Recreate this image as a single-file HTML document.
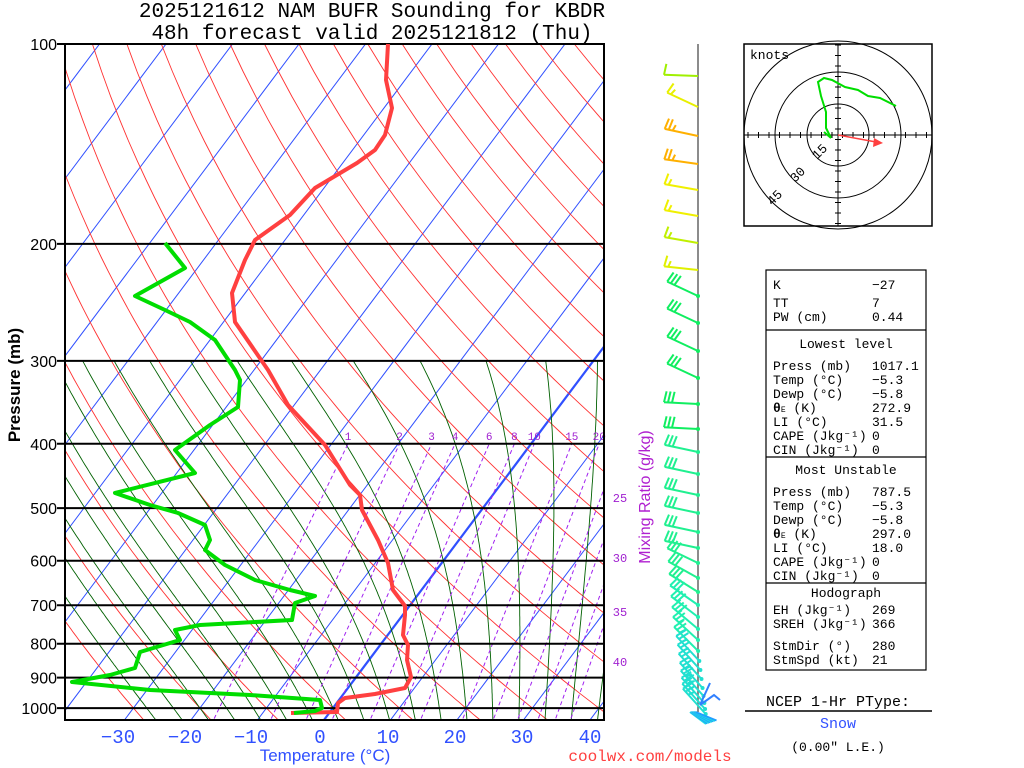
<!DOCTYPE html>
<html><head><meta charset="utf-8"><style>
body{margin:0;background:#fff;}
svg{display:block;}
text{font-family:"Liberation Mono",monospace;}
</style></head><body>
<svg id="s" width="1024" height="768" xmlns="http://www.w3.org/2000/svg">
<defs><clipPath id="cp"><rect x="65" y="44" width="539" height="676"/></clipPath></defs>
<g id="bg" clip-path="url(#cp)"></g>
<g id="fg"></g>
<text x="372" y="17" font-size="21" text-anchor="middle">2025121612 NAM BUFR Sounding for KBDR</text>
<text x="372" y="39" font-size="21" text-anchor="middle">48h forecast valid 2025121812 (Thu)</text>
<text transform="translate(20,385) rotate(-90)" font-size="17" font-weight="bold" text-anchor="middle" style="font-family:'Liberation Sans',sans-serif">Pressure (mb)</text>
<text transform="translate(650,497) rotate(-90)" font-size="16" fill="#b020d0" text-anchor="middle" style="font-family:'Liberation Sans',sans-serif">Mixing Ratio (g/kg)</text>
<g font-size="19" fill="#3050ff" text-anchor="middle" style="font-family:'Liberation Sans',sans-serif">
<text x="118" y="743">−30</text><text x="185" y="743">−20</text><text x="251" y="743">−10</text><text x="320" y="743">0</text><text x="388" y="743">10</text><text x="455" y="743">20</text><text x="522" y="743">30</text><text x="590" y="743">40</text>
<text x="325" y="761" font-size="17" style="font-family:'Liberation Sans',sans-serif">Temperature (°C)</text>
</g>
<text x="650" y="761" font-size="16" fill="#ff4040" text-anchor="middle">coolwx.com/models</text>
<g font-size="12" fill="#a020d0" text-anchor="middle">
<text x="620" y="502">25</text><text x="620" y="562">30</text><text x="620" y="616">35</text><text x="620" y="666">40</text>
</g>
<rect x="744" y="44" width="188" height="182" fill="none" stroke="#000" stroke-width="1.5"/>
<g fill="none" stroke="#000" stroke-width="1">
<circle cx="838" cy="135" r="31"/><circle cx="838" cy="135" r="63"/><circle cx="838" cy="135" r="94"/>
<line x1="744" y1="135" x2="932" y2="135"/><line x1="838" y1="44" x2="838" y2="226"/>
</g>
<g id="hticks" stroke="#000"></g>
<text x="750" y="59" font-size="13">knots</text>
<text transform="translate(817,160) rotate(-45)" font-size="13">15</text>
<text transform="translate(795,183) rotate(-45)" font-size="13">30</text>
<text transform="translate(772,206) rotate(-45)" font-size="13">45</text>
<polyline points="831,138 826,128 826,112 821,96 818,82 824,78 832,80 845,87 858,90 868,96 880,98 890,103 896,106" fill="none" stroke="#00dd00" stroke-width="2"/>
<polyline points="831,138 824,132" fill="none" stroke="#00dd00" stroke-width="2"/>
<line x1="838" y1="135" x2="876" y2="142" stroke="#ff4040" stroke-width="1.5"/>
<polygon points="883,143 874,138 873,147" fill="#ff4040"/>
<rect x="766" y="270" width="160" height="400" fill="none" stroke="#000" stroke-width="1.2"/>
<g stroke="#000" stroke-width="1.2"><line x1="766" y1="330" x2="926" y2="330"/><line x1="766" y1="457" x2="926" y2="457"/><line x1="766" y1="583" x2="926" y2="583"/></g>
<g font-size="13">
<text x="773" y="289">K</text><text x="872" y="289">−27</text>
<text x="773" y="307">TT</text><text x="872" y="307">7</text>
<text x="773" y="321">PW (cm)</text><text x="872" y="321">0.44</text>
<text x="846" y="348" text-anchor="middle">Lowest level</text>
<text x="773" y="370">Press (mb)</text><text x="872" y="370">1017.1</text>
<text x="773" y="384">Temp (°C)</text><text x="872" y="384">−5.3</text>
<text x="773" y="398">Dewp (°C)</text><text x="872" y="398">−5.8</text>
<text x="773" y="412"><tspan font-weight="bold">θ</tspan><tspan font-size="8">E</tspan> (K)</text><text x="872" y="412">272.9</text>
<text x="773" y="426">LI (°C)</text><text x="872" y="426">31.5</text>
<text x="773" y="440">CAPE (Jkg⁻¹)</text><text x="872" y="440">0</text>
<text x="773" y="454">CIN (Jkg⁻¹)</text><text x="872" y="454">0</text>
<text x="846" y="474" text-anchor="middle">Most Unstable</text>
<text x="773" y="496">Press (mb)</text><text x="872" y="496">787.5</text>
<text x="773" y="510">Temp (°C)</text><text x="872" y="510">−5.3</text>
<text x="773" y="524">Dewp (°C)</text><text x="872" y="524">−5.8</text>
<text x="773" y="538"><tspan font-weight="bold">θ</tspan><tspan font-size="8">E</tspan> (K)</text><text x="872" y="538">297.0</text>
<text x="773" y="552">LI (°C)</text><text x="872" y="552">18.0</text>
<text x="773" y="566">CAPE (Jkg⁻¹)</text><text x="872" y="566">0</text>
<text x="773" y="580">CIN (Jkg⁻¹)</text><text x="872" y="580">0</text>
<text x="846" y="597" text-anchor="middle">Hodograph</text>
<text x="773" y="614">EH (Jkg⁻¹)</text><text x="872" y="614">269</text>
<text x="773" y="628">SREH (Jkg⁻¹)</text><text x="872" y="628">366</text>
<text x="773" y="650">StmDir (°)</text><text x="872" y="650">280</text>
<text x="773" y="664">StmSpd (kt)</text><text x="872" y="664">21</text>
</g>
<text x="838" y="706" font-size="15" text-anchor="middle">NCEP 1-Hr PType:</text>
<line x1="745" y1="711" x2="932" y2="711" stroke="#000" stroke-width="1.5"/>
<text x="838" y="728" font-size="15" fill="#3050ff" text-anchor="middle">Snow</text>
<text x="838" y="751" font-size="13" text-anchor="middle">(0.00" L.E.)</text>
</svg>
<script>
var NS="http://www.w3.org/2000/svg";
function el(par,tag,at){var e=document.createElementNS(NS,tag);for(var k in at)e.setAttribute(k,at[k]);par.appendChild(e);return e;}
var bg=document.getElementById('bg'),fg=document.getElementById('fg');
function Y(p){return 44+288.4*Math.log(p/100);}
function X(T,p){return 324+6.65*T+0.75*(720-Y(p));}
function pl(par,pts,st){return el(par,'polyline',Object.assign({points:pts.map(function(a){return a[0].toFixed(1)+','+a[1].toFixed(1)}).join(' '),fill:'none'},st));}
for(var T=-160;T<=40;T+=10){var w=(T==0)?2.2:1;pl(bg,[[X(T,1060),Y(1060)],[X(T,95),Y(95)]],{stroke:'#3050ff','stroke-width':w});}
for(var th=-30;th<=220;th+=10){var pts=[];for(var p=1060;p>=95;p-=10){var Tk=(th+273.15)*Math.pow(p/1000,0.286);pts.push([X(Tk-273.15,p),Y(p)]);}pl(bg,pts,{stroke:'#ff3030','stroke-width':0.9});}
function es(T){return 6.112*Math.exp(17.67*T/(T+243.5));}
function step(T,p,dp){var rs=0.622*es(T-273.15)/(p-es(T-273.15));var num=287*T+2.5e6*rs;var den=1004+2.5e6*2.5e6*rs*0.622/(287*T*T);return T+dp*num/(p*den);}
for(var tw=-28;tw<=40;tw+=4){var Tk=tw+273.15,pts=[],Td=Tk,pp;
 var down=[];for(pp=1000;pp<1060;pp+=5){Td=step(Td,pp,5);down.push([X(Td-273.15,pp+5),Y(pp+5)]);}
 down.reverse();pts=down.concat([[X(tw,1000),Y(1000)]]);
 for(pp=1000;pp>300;pp-=5){Tk=step(Tk,pp,-5);pts.push([X(Tk-273.15,pp-5),Y(pp-5)]);}
 pl(bg,pts,{stroke:'#006000','stroke-width':0.9});}
var ws=[1,2,3,4,6,8,10,15,20,25,30,35,40];
function Tw(w,p){var e=w*p/(622+w);var l=Math.log(e/6.112);return 243.5*l/(17.67-l);}
ws.forEach(function(w){pl(bg,[[X(Tw(w,1060),1060),Y(1060)],[X(Tw(w,400),400),Y(400)]],{stroke:'#a020f0','stroke-width':1,'stroke-dasharray':'4,3'});
 var x=X(Tw(w,400),400);
 if(w<=20){el(fg,'text',{x:x.toFixed(1),y:440,'font-size':11,fill:'#a020d0','text-anchor':'middle'}).textContent=w;}
});
[100,200,300,400,500,600,700,800,900,1000].forEach(function(p){var y=Y(p);el(fg,'line',{x1:57,y1:y,x2:604,y2:y,stroke:'#000','stroke-width':2});
 el(fg,'text',{x:57,y:y+6,'font-size':16,'text-anchor':'end',style:"font-family:'Liberation Sans',sans-serif"}).textContent=p;});
el(fg,'rect',{x:65,y:44,width:539,height:676,fill:'none',stroke:'#000','stroke-width':2});
var tp=[[388,44],[386,80],[392,108],[385,135],[375,150],[357,163],[315,188],[290,215],[255,240],[245,260],[232,293],[235,322],[268,370],[288,405],[325,445],[350,485],[360,495],[362,510],[378,540],[388,563],[393,590],[405,606],[405,615],[403,635],[408,645],[407,660],[411,677],[405,688],[375,694],[345,698],[338,703],[337,712],[291,713]];
pl(fg,tp,{stroke:'#ff4040','stroke-width':4,'stroke-linejoin':'round'});
var dp=[[165,243],[185,268],[135,296],[165,310],[190,322],[215,340],[235,370],[240,380],[238,407],[210,425],[175,450],[195,473],[115,493],[150,505],[178,513],[205,525],[210,540],[205,550],[225,565],[255,580],[290,590],[315,596],[295,603],[292,620],[200,625],[175,630],[180,640],[140,652],[135,668],[110,675],[72,682],[150,690],[250,695],[320,700],[322,708],[315,711],[294,713]];
pl(fg,dp,{stroke:'#00dd00','stroke-width':4,'stroke-linejoin':'round'});
el(fg,'line',{x1:698,y1:44,x2:698,y2:712,stroke:'#666','stroke-width':1.5});
var bys=[76,107,136,164,190,216,243,270,296,323,351,378,404,429,452,474,495,513,532,548,563,578,592,605,617,629,640,651,661,670,679,688,696,703,709,714];
var cols=['#a0f000','#e8f000','#ffb000','#ffb000','#f0f000','#f0f000','#c0f000','#e0f000'];
var nb=[1,1.5,2.5,2.5,1.5,1.5,1.5,1.5,3];
bys.forEach(function(y,i){
 var c=i<8?cols[i]:(y<450?'#10ee60':(y<600?'#20f090':(y<660?'#20f0b0':'#20e0d0')));
 var ang;
 if(i<8)ang=[2,25,12,8,10,10,10,6][i];else if(y<400)ang=25;else if(y<450)ang=3;else if(y<560)ang=12;else ang=Math.min(48,25+(y-560)*0.22);
 var sx=698+(y>650?(y-650)*0.12:0),sy=y;
 var a=ang*Math.PI/180,L=34;
 var ux=-Math.cos(a),uy=-Math.sin(a);
 var tx=sx+L*ux,ty=sy+L*uy;
 el(fg,'line',{x1:sx,y1:sy,x2:tx.toFixed(1),y2:ty.toFixed(1),stroke:c,'stroke-width':2});
 if(i>=8)el(fg,'circle',{cx:sx,cy:sy,r:2,fill:c});
 var nx=-uy,ny=ux;
 if(ny>0){nx=-nx;ny=-ny;}
 var n=i<9?nb[i]:(y<640?3:2.5);
 for(var k=0;k<Math.ceil(n);k++){var half=(k==Math.floor(n)&&n%1);var len=half?6:11;
  var bx=tx-ux*(k*4),by=ty-uy*(k*4);
  el(fg,'line',{x1:bx.toFixed(1),y1:by.toFixed(1),x2:(bx+nx*len-ux*2).toFixed(1),y2:(by+ny*len-uy*2).toFixed(1),stroke:c,'stroke-width':2});}
});
el(fg,'polyline',{points:'700,705 710,683',stroke:'#3080ff','stroke-width':2,fill:'none'});
el(fg,'polyline',{points:'700,705 714,695 720,700',stroke:'#3080ff','stroke-width':2,fill:'none'});
for(var i=0;i<8;i++){el(fg,'line',{x1:690+i*0.8,y1:712,x2:706+i*1.5,y2:724-i*0.5,stroke:i%2?'#20a0ff':'#20e0e0','stroke-width':2});}
var ht=document.getElementById('hticks');
for(var d=-90;d<=90;d+=10.5){if(Math.abs(d)<3)continue;el(ht,'line',{x1:838+d,y1:132,x2:838+d,y2:138});el(ht,'line',{x1:835,y1:135+d,x2:841,y2:135+d});}
</script>
</body></html>
